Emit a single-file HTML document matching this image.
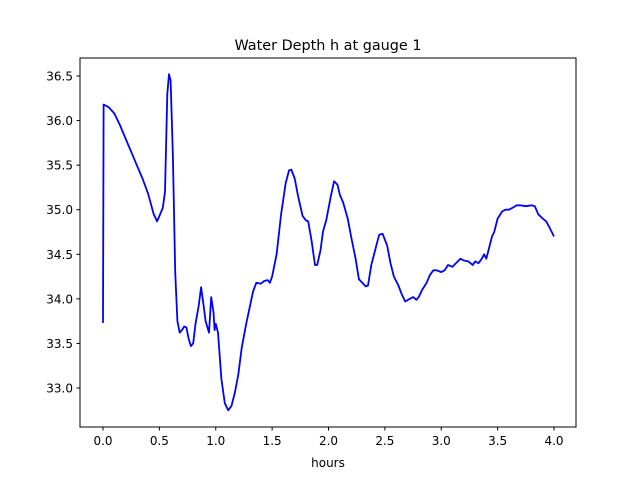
<!DOCTYPE html>
<html><head><meta charset="utf-8"><style>
body{margin:0;background:#fff;width:640px;height:480px;overflow:hidden}
svg text{font-family:"DejaVu Sans","Liberation Sans",sans-serif;fill:#000}
</style></head><body>
<svg id="chart" width="640" height="480" xmlns="http://www.w3.org/2000/svg">
<rect width="640" height="480" fill="#fff"/>
<text x="328" y="50" font-size="14.4" text-anchor="middle">Water Depth h at gauge 1</text>
<text x="328" y="467" font-size="12" text-anchor="middle">hours</text>
<g id="ticks"></g>
<path id="line" fill="none" stroke="#0000ff" stroke-width="1.8" stroke-linejoin="round"/>
<rect x="80" y="58" width="496" height="369" fill="none" stroke="#000" stroke-width="1"/>
</svg>
<script>
const hours=[0,0.005,0.05,0.1,0.15,0.2,0.25,0.3,0.35,0.4,0.45,0.48,0.5,0.53,0.55,0.57,0.585,0.6,0.62,0.64,0.66,0.68,0.7,0.72,0.74,0.76,0.78,0.8,0.82,0.85,0.87,0.89,0.91,0.94,0.96,0.98,0.99,1.0,1.02,1.05,1.08,1.11,1.14,1.17,1.2,1.23,1.27,1.3,1.33,1.36,1.4,1.43,1.46,1.48,1.5,1.54,1.58,1.62,1.65,1.67,1.7,1.73,1.77,1.8,1.82,1.85,1.88,1.9,1.93,1.95,1.98,2.02,2.05,2.08,2.1,2.13,2.17,2.2,2.24,2.27,2.3,2.33,2.35,2.38,2.42,2.45,2.48,2.52,2.55,2.58,2.62,2.65,2.68,2.72,2.75,2.78,2.8,2.83,2.87,2.9,2.93,2.96,3.0,3.03,3.06,3.1,3.13,3.17,3.2,3.24,3.28,3.3,3.33,3.36,3.38,3.4,3.42,3.45,3.47,3.5,3.54,3.57,3.6,3.63,3.67,3.7,3.75,3.8,3.83,3.86,3.9,3.93,3.96,4.0];
const depth=[33.73,36.18,36.15,36.08,35.95,35.8,35.65,35.5,35.35,35.18,34.95,34.87,34.93,35.02,35.2,36.3,36.52,36.45,35.6,34.3,33.75,33.62,33.65,33.69,33.68,33.55,33.47,33.5,33.72,33.93,34.13,33.95,33.75,33.62,34.02,33.85,33.65,33.72,33.62,33.1,32.83,32.75,32.8,32.95,33.15,33.45,33.72,33.9,34.08,34.18,34.17,34.2,34.21,34.18,34.25,34.5,34.95,35.3,35.44,35.45,35.35,35.15,34.93,34.88,34.87,34.65,34.38,34.38,34.55,34.75,34.88,35.15,35.32,35.28,35.17,35.08,34.9,34.7,34.45,34.22,34.18,34.14,34.15,34.38,34.58,34.72,34.73,34.6,34.4,34.25,34.15,34.05,33.97,34.0,34.02,33.99,34.02,34.1,34.18,34.27,34.32,34.32,34.3,34.32,34.38,34.36,34.4,34.45,34.43,34.42,34.38,34.42,34.4,34.45,34.5,34.45,34.55,34.7,34.75,34.9,34.98,35.0,35.0,35.02,35.05,35.05,35.04,35.05,35.04,34.95,34.9,34.87,34.8,34.7];
const xTicks=["0.0","0.5","1.0","1.5","2.0","2.5","3.0","3.5","4.0"];
const yTicks=["33.0","33.5","34.0","34.5","35.0","35.5","36.0","36.5"];
const xs=v=>103+v*112.75;
const ys=v=>388-(v-33)*89.14;
const NS="http://www.w3.org/2000/svg";
const g=document.getElementById('ticks');
xTicks.forEach(t=>{const x=xs(+t);
 const l=document.createElementNS(NS,'line');
 
 
 l.setAttribute('x1',x);l.setAttribute('x2',x);l.setAttribute('y1',427);l.setAttribute('y2',430.5);l.setAttribute('stroke','#000');g.appendChild(l);
 const tx=document.createElementNS(NS,'text');
 
 
 tx.setAttribute('x',x);tx.setAttribute('y',445);tx.setAttribute('font-size','12');tx.setAttribute('text-anchor','middle');tx.textContent=t;g.appendChild(tx);});
yTicks.forEach(t=>{const y=ys(+t);
 const l=document.createElementNS(NS,'line');
 
 
 l.setAttribute('x1',76.5);l.setAttribute('x2',80);l.setAttribute('y1',y);l.setAttribute('y2',y);l.setAttribute('stroke','#000');g.appendChild(l);
 const tx=document.createElementNS(NS,'text');
 
 
 tx.setAttribute('x',73);tx.setAttribute('y',y+4.5);tx.setAttribute('font-size','12');tx.setAttribute('text-anchor','end');tx.textContent=t;g.appendChild(tx);});
document.getElementById('line').setAttribute('d',hours.map((h,i)=>(i?'L':'M')+xs(h).toFixed(1)+','+ys(depth[i]).toFixed(1)).join(''));
</script>
</body></html>
